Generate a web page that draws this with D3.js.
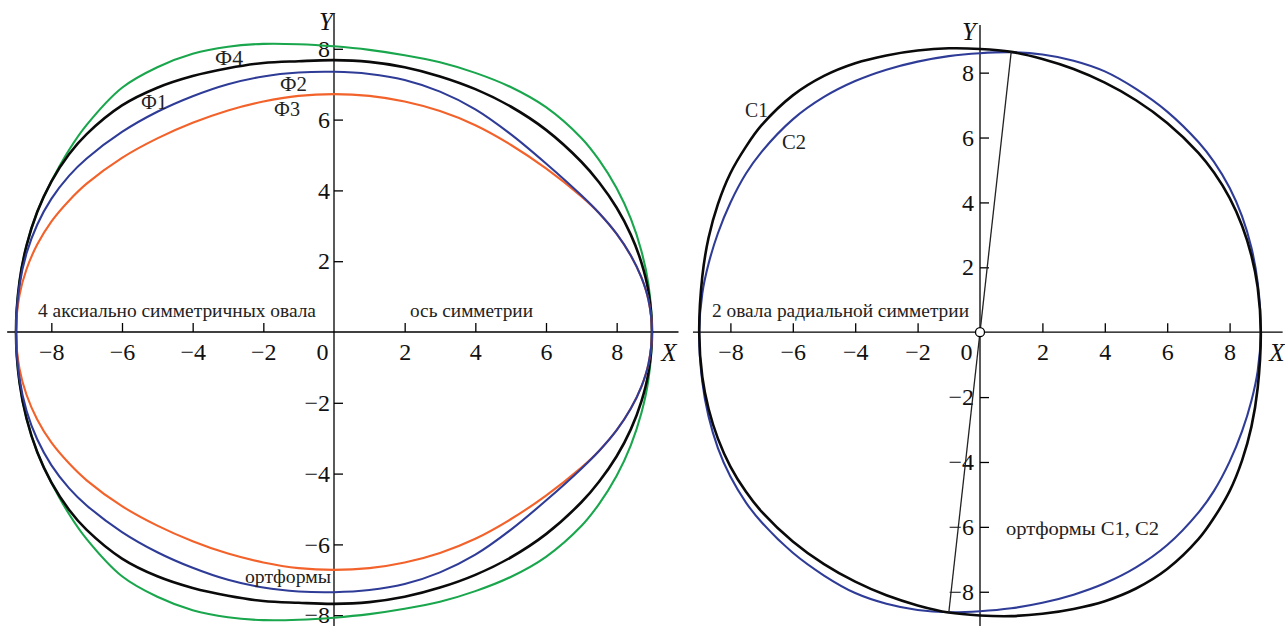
<!DOCTYPE html>
<html>
<head>
<meta charset="utf-8">
<script src="https://cdn.jsdelivr.net/npm/d3@7"></script>
<style>
  html, body { margin: 0; padding: 0; background: #fff; }
  svg { display: block; }
</style>
</head>
<body>
<svg id="chart" width="1285" height="626"></svg>
<script>
// ---------- data ----------
const tickValues = [-8, -6, -4, -2, 0, 2, 4, 6, 8];

// Axially symmetric ovals: upper halves, traced left to right over the top;
// the lower halves are their mirror images about the X axis.
const phi1 = [[-9,0],[-8.9,1.43],[-8.7,2.45],[-8.4,3.39],[-8,4.25],[-7.5,5.02],[-7,5.59],[-6,6.40],
  [-5,6.90],[-4,7.23],[-3,7.45],[-2,7.60],[-1,7.65],[0,7.68],[1,7.63],[2,7.48],[3,7.22],[4,6.86],
  [5,6.37],[6,5.71],[7,4.81],[7.5,4.23],[8,3.51],[8.4,2.75],[8.7,1.96],[8.9,1.14],[9,0]];
const phi2 = [[-9,0],[-8.9,1.32],[-8.7,2.23],[-8.4,3.03],[-8,3.76],[-7.5,4.41],[-7,4.90],[-6,5.65],
  [-5,6.22],[-4,6.66],[-3,7.0],[-2,7.22],[-1,7.33],[0,7.35],[1,7.29],[2,7.12],[3,6.79],[4,6.29],
  [5,5.59],[6,4.76],[7,3.86],[7.5,3.36],[8,2.77],[8.4,2.16],[8.7,1.54],[8.9,0.90],[9,0]];
const phi3 = [[-9,0],[-8.9,1.04],[-8.7,1.78],[-8.4,2.47],[-8,3.12],[-7.5,3.71],[-7,4.19],[-6,4.92],
  [-5,5.47],[-4,5.91],[-3,6.26],[-2,6.51],[-1,6.67],[0,6.72],[1,6.67],[2,6.51],[3,6.24],[4,5.84],
  [5,5.29],[6,4.62],[7,3.83],[7.5,3.36],[8,2.77],[8.4,2.16],[8.7,1.54],[8.9,0.90],[9,0]];
const phi4 = [[-9,0],[-8.9,1.43],[-8.7,2.45],[-8.4,3.39],[-8,4.25],[-7.5,5.14],[-7,5.85],[-6,6.90],
  [-5,7.48],[-4,7.86],[-3,8.06],[-2,8.14],[-1,8.13],[0,8.07],[1,7.97],[2,7.82],[3,7.62],[4,7.32],
  [5,6.92],[6,6.35],[7,5.48],[7.5,4.86],[8,4.06],[8.4,3.20],[8.7,2.29],[8.9,1.34],[9,0]];

// Radially symmetric ovals: upper halves; the lower halves are the
// point reflections (x, y) -> (-x, -y) through the origin.
const c1 = [[-9,0],[-8.9,1.72],[-8.7,2.91],[-8.4,3.95],[-8,4.90],[-7.5,5.72],[-7,6.38],[-6,7.30],
  [-5,7.90],[-4,8.29],[-3,8.53],[-2,8.68],[-1,8.75],[0,8.73],[1,8.64],[2,8.42],[3,8.11],[4,7.69],
  [5,7.15],[6,6.45],[7,5.53],[7.5,4.92],[8,4.14],[8.4,3.28],[8.7,2.36],[8.9,1.38],[9,0]];
const c2 = [[-9,0],[-8.9,1.20],[-8.7,2.11],[-8.4,3.05],[-8,3.99],[-7.5,4.89],[-7,5.56],[-6,6.56],
  [-5,7.25],[-4,7.74],[-3,8.09],[-2,8.34],[-1,8.51],[0,8.6],[1,8.63],[2,8.56],[3,8.37],[4,8.04],
  [5,7.50],[6,6.80],[7,5.86],[7.5,5.25],[8,4.45],[8.4,3.57],[8.7,2.60],[8.9,1.53],[9,0]];

// chord joining the two intersection points of C1 and C2, through the centre
const chord = [[1.0, 8.64], [-1.0, -8.64]];
const centre = [0, 0];

// ---------- drawing ----------
const FONT = "'Liberation Serif','Times New Roman',serif";
const svg = d3.select("#chart");

const mirrorX = pts => pts.concat(pts.slice(1, -1).reverse().map(([x, y]) => [x, -y]));
const reflectO = pts => pts.concat(pts.slice(1, -1).map(([x, y]) => [-x, -y]));

function panel(cfg) {
  const { x, y } = cfg;
  const g = svg.append("g");

  // axis lines
  g.append("line")
    .attr("x1", x(cfg.xExtent[0])).attr("x2", x(cfg.xExtent[1]))
    .attr("y1", y(0)).attr("y2", y(0))
    .attr("stroke", "#000").attr("stroke-width", 1.3);
  g.append("line")
    .attr("x1", x(0)).attr("x2", x(0))
    .attr("y1", y(cfg.yExtent[0])).attr("y2", y(cfg.yExtent[1]))
    .attr("stroke", "#000").attr("stroke-width", 1.3);

  // X ticks (pointing up), labels underneath
  const gx = g.append("g").attr("transform", `translate(0,${y(0)})`)
    .call(d3.axisBottom(x).tickValues(tickValues).tickSize(-9).tickSizeOuter(0).tickPadding(11));
  gx.select(".domain").remove();
  gx.selectAll(".tick").filter(d => d === 0).select("line").remove();
  gx.selectAll(".tick").filter(d => d === 0).select("text").attr("x", cfg.zeroShift);

  // Y ticks (pointing right), labels to the left
  const gy = g.append("g").attr("transform", `translate(${x(0)},0)`)
    .call(d3.axisLeft(y).tickValues(tickValues.filter(v => v !== 0))
      .tickSize(-9).tickSizeOuter(0).tickPadding(cfg.yPad));
  gy.select(".domain").remove();

  g.selectAll(".tick line").attr("stroke", "#000").attr("stroke-width", 1.3);
  g.selectAll(".tick text").attr("font-family", FONT).attr("font-size", 24).attr("fill", "#111");

  // axis names
  g.append("text").text("X").attr("x", cfg.xName[0]).attr("y", cfg.xName[1])
    .attr("font-family", FONT).attr("font-style", "italic").attr("font-size", 25)
    .attr("text-anchor", "middle").attr("fill", "#111");
  g.append("text").text("Y").attr("x", cfg.yName[0]).attr("y", cfg.yName[1])
    .attr("font-family", FONT).attr("font-style", "italic").attr("font-size", 25)
    .attr("text-anchor", "middle").attr("fill", "#111");

  const line = d3.line().x(d => x(d[0])).y(d => y(d[1]))
    .curve(d3.curveCatmullRomClosed.alpha(0.5));
  cfg.curves.forEach(c => {
    g.append("path").attr("d", line(c.pts)).attr("fill", "none")
      .attr("stroke", c.color).attr("stroke-width", c.width).attr("stroke-linejoin", "round");
  });

  cfg.labels.forEach(l => {
    const t = g.append("text").text(l.text).attr("x", l.x).attr("y", l.y)
      .attr("font-family", FONT).attr("font-size", l.size).attr("fill", "#222");
    if (l.len) t.attr("textLength", l.len).attr("lengthAdjust", "spacingAndGlyphs");
  });
  return g;
}

// left panel: four axially symmetric ovals
const xL = d3.scaleLinear().domain([-9, 9]).range([16, 652]);
const yL = d3.scaleLinear().domain([-9, 9]).range([650.6, 13.4]);
panel({
  x: xL, y: yL, xExtent: [-9.25, 9.75], yExtent: [9.0, -9.0],
  zeroShift: -12, yPad: 4,
  xName: [669, 361], yName: [326, 30],
  curves: [
    { pts: mirrorX(phi4), color: "#19a64c", width: 2.1 },
    { pts: mirrorX(phi1), color: "#0a0a0a", width: 2.6 },
    { pts: mirrorX(phi3), color: "#f2622a", width: 2.1 },
    { pts: mirrorX(phi2), color: "#2e3c97", width: 2.1 }
  ],
  labels: [
    { text: "Ф4", x: 215, y: 65, size: 20, len: 28 },
    { text: "Ф1", x: 141, y: 109, size: 20, len: 26 },
    { text: "Ф2", x: 280, y: 90.5, size: 20, len: 27 },
    { text: "Ф3", x: 274, y: 116, size: 20, len: 26 },
    { text: "4 аксиально симметричных овала", x: 38, y: 317, size: 18, len: 278 },
    { text: "ось симметрии", x: 410, y: 317, size: 18, len: 123 },
    { text: "ортформы", x: 245, y: 583, size: 18, len: 86 }
  ]
});

// right panel: two radially symmetric ovals
const xR = d3.scaleLinear().domain([-9, 9]).range([699.2, 1260.8]);
const yR = d3.scaleLinear().domain([-9, 9]).range([624.2, 40.2]);
const gR = panel({
  x: xR, y: yR, xExtent: [-9.2, 9.7], yExtent: [9.47, -9.1],
  zeroShift: -14, yPad: 6,
  xName: [1277, 361], yName: [969, 40],
  curves: [
    { pts: reflectO(c2), color: "#2e3c97", width: 2.1 },
    { pts: reflectO(c1), color: "#0a0a0a", width: 2.6 }
  ],
  labels: [
    { text: "С1", x: 745, y: 117, size: 20, len: 23 },
    { text: "С2", x: 782, y: 149, size: 20, len: 24 },
    { text: "2 овала радиальной симметрии", x: 712, y: 317, size: 18, len: 257 },
    { text: "ортформы С1, С2", x: 1006, y: 535, size: 18, len: 153 }
  ]
});

gR.append("line")
  .attr("x1", xR(chord[0][0])).attr("y1", yR(chord[0][1]))
  .attr("x2", xR(chord[1][0])).attr("y2", yR(chord[1][1]))
  .attr("stroke", "#222").attr("stroke-width", 1.3);
gR.append("circle")
  .attr("cx", xR(centre[0])).attr("cy", yR(centre[1])).attr("r", 4.5)
  .attr("fill", "#fff").attr("stroke", "#000").attr("stroke-width", 1.3);
</script>
</body>
</html>
